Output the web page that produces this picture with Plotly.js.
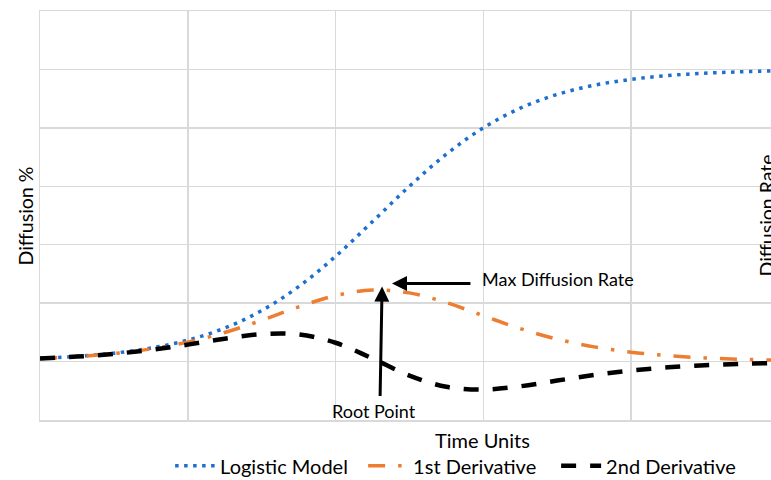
<!DOCTYPE html>
<html>
<head>
<meta charset="utf-8">
<script src="https://cdn.plot.ly/plotly-3.0.1.min.js"></script>
<style>
  html, body { margin: 0; padding: 0; background: #ffffff; }
  #chart { width: 771px; height: 480px; }
</style>
</head>
<body>
<div id="chart"></div>
<script>
// Time units (x positions of the sampled points)
const timeUnits = [0, 0.25, 0.5, 0.75, 1, 1.25, 1.5, 1.75, 2, 2.25, 2.5, 2.75, 3, 3.25, 3.5, 3.75, 4, 4.25, 4.5, 4.75, 5];

// Series values (gridline units)
const logisticModel = [0.055, 0.089, 0.144, 0.231, 0.367, 0.573, 0.872, 1.282, 1.800, 2.395, 3.000, 3.550, 4.000, 4.337, 4.572, 4.729, 4.830, 4.895, 4.935, 4.960, 4.976];
const firstDerivative = [0.054, 0.086, 0.137, 0.216, 0.333, 0.497, 0.706, 0.935, 1.130, 1.223, 1.176, 1.009, 0.785, 0.564, 0.384, 0.252, 0.161, 0.101, 0.063, 0.039, 0.024];
const secondDerivative = [0.053, 0.085, 0.132, 0.200, 0.290, 0.391, 0.469, 0.464, 0.322, 0.053, -0.240, -0.432, -0.480, -0.423, -0.325, -0.229, -0.153, -0.099, -0.062, -0.039, -0.024];

const seriesNames = ["Logistic Model", "1st Derivative", "2nd Derivative"];

const FONT = "Lato, Open Sans, sans-serif";
const GRID = "#d9d9d9";

const traces = [
  {
    x: timeUnits, y: logisticModel, name: seriesNames[0], type: "scatter", mode: "lines",
    line: { color: "#1f6fd1", width: 3.5, dash: "3.5px,5.5px", shape: "spline", smoothing: 1 }
  },
  {
    x: timeUnits, y: firstDerivative, name: seriesNames[1], type: "scatter", mode: "lines",
    line: { color: "#ed7d31", width: 3.5, dash: "17px,13px,3.5px,13px", shape: "spline", smoothing: 1 }
  },
  {
    x: timeUnits, y: secondDerivative, name: seriesNames[2], type: "scatter", mode: "lines",
    line: { color: "#000000", width: 4.5, dash: "15px,14px", shape: "spline", smoothing: 1 }
  }
];

const layout = {
  width: 771, height: 480,
  margin: { l: 40, r: 0, t: 11, b: 60, pad: 0, autoexpand: false },
  paper_bgcolor: "#ffffff", plot_bgcolor: "#ffffff",
  font: { family: FONT, size: 20, color: "#000000" },
  showlegend: true,
  xaxis: {
    range: [0, 4.947], dtick: 1, tick0: 0, showticklabels: false, ticks: "",
    showgrid: true, gridcolor: GRID, gridwidth: 1.5,
    zeroline: false, showline: true, linecolor: GRID, linewidth: 1.5, mirror: true,
    fixedrange: true
  },
  yaxis: {
    range: [-1, 6], dtick: 1, tick0: 0, showticklabels: false, ticks: "",
    showgrid: true, gridcolor: GRID, gridwidth: 1.5,
    zeroline: false, showline: true, linecolor: GRID, linewidth: 1.5, mirror: false,
    fixedrange: true
  },
  legend: {
    orientation: "h", x: 0.178, xanchor: "left", y: -0.112, yanchor: "middle",
    font: { family: FONT, size: 20, color: "#000000" },
    itemwidth: 40, entrywidth: 138, entrywidthmode: "pixels", bgcolor: "rgba(0,0,0,0)"
  },
  annotations: [
    { text: "Time Units", xref: "paper", yref: "paper", x: 0.606, y: -0.05,
      xanchor: "center", yanchor: "middle", showarrow: false, font: { size: 20 } },
    { text: "Diffusion %", xref: "paper", yref: "paper", x: -0.0192, y: 0.5,
      xanchor: "center", yanchor: "middle", textangle: -90, showarrow: false, font: { size: 19.5 } },
    { text: "Diffusion Rate", xref: "paper", yref: "paper", x: 0.9945, y: 0.5,
      xanchor: "center", yanchor: "middle", textangle: -90, showarrow: false, font: { size: 19.5 } },
    { text: "Max Diffusion Rate", xref: "x", yref: "y", x: 2.978, y: 1.42,
      xanchor: "left", yanchor: "middle", showarrow: false, font: { size: 18 } },
    { text: "", xref: "x", yref: "y", x: 2.382, y: 1.335, ax: 80, ay: 0,
      showarrow: true, arrowhead: 2, arrowsize: 1, arrowwidth: 3, arrowcolor: "#000000" },
    { text: "Root Point", xref: "x", yref: "y", x: 2.26, y: -0.85,
      xanchor: "center", yanchor: "middle", showarrow: false, font: { size: 18 } },
    { text: "", xref: "x", yref: "y", x: 2.315, y: 1.284, ax: -2, ay: 111,
      showarrow: true, arrowhead: 2, arrowsize: 1, arrowwidth: 3, arrowcolor: "#000000" }
  ]
};

Plotly.newPlot("chart", traces, layout, { displayModeBar: false, staticPlot: true });
</script>
</body>
</html>
